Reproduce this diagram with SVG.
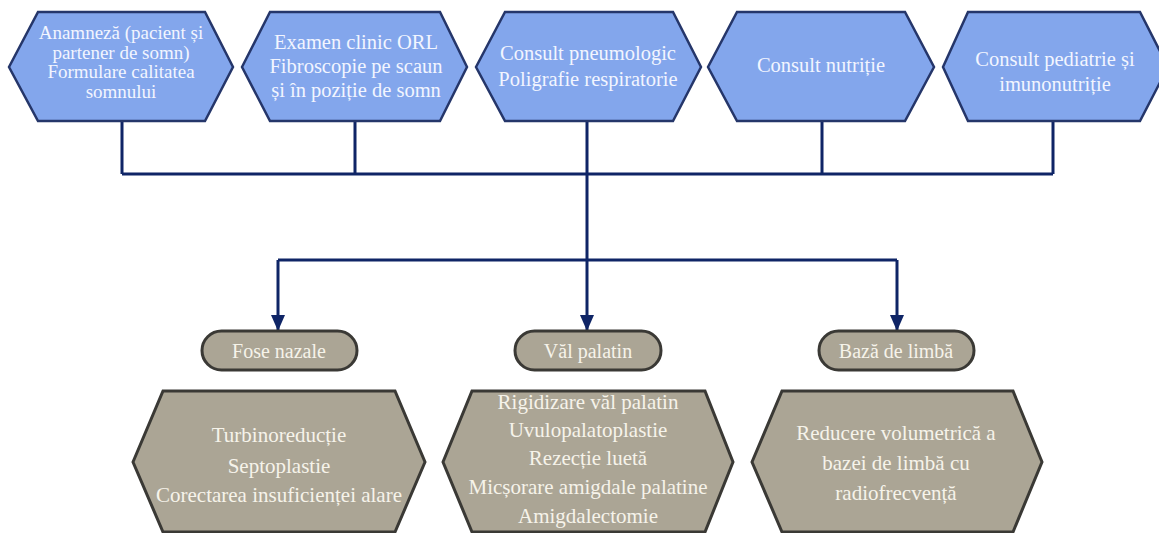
<svg xmlns="http://www.w3.org/2000/svg" width="1159" height="533" viewBox="0 0 1159 533">
<defs>
<style>
.top{fill:#83a6ec;stroke:#25366a;stroke-width:2.5;stroke-linejoin:miter}
.bot{fill:#aba595;stroke:#3a3935;stroke-width:3}
.pill{fill:#aba595;stroke:#3a3935;stroke-width:3}
text{font-family:'Liberation Serif','DejaVu Serif','Times New Roman',serif;text-anchor:middle}
.tt{font-size:20.5px;fill:#f2f5ff}
.ts{font-size:19px;fill:#f2f5ff}
.bt{font-size:21px;fill:#f6f3ea}
.pt{font-size:20px;fill:#f6f3ea}
.con{fill:none;stroke:#0f2566;stroke-width:3}
</style>
<marker id="arr" markerWidth="16" markerHeight="14" refX="16" refY="7" orient="auto" markerUnits="userSpaceOnUse" viewBox="0 0 16 14">
<path d="M0,0 L16,7 L0,14 Z" fill="#0f2566"/>
</marker>
</defs>
<rect width="1159" height="533" fill="#ffffff"/>
<g id="connectors">
<path class="con" d="M122,121 V174 M355,121 V174 M587,121 V174 M822,121 V174 M1053,121 V174 M122,174 H1053"/>
<path class="con" d="M587,174 V260 M278,260 H897"/>
<path class="con" d="M278,260 V331" marker-end="url(#arr)"/>
<path class="con" d="M587,260 V331" marker-end="url(#arr)"/>
<path class="con" d="M897,260 V331" marker-end="url(#arr)"/>
</g>
<g id="n1">
<polygon class="top" points="9,67 38,12 205,12 233,67 205,121 38,121"/>
<text class="ts" x="121" y="39">Anamneză (pacient și</text>
<text class="ts" x="121" y="59">partener de somn)</text>
<text class="ts" x="121" y="78">Formulare calitatea</text>
<text class="ts" x="121" y="98">somnului</text>
</g>
<g id="n2">
<polygon class="top" points="242,67 270,12 440,12 467,67 440,121 270,121"/>
<text class="tt" x="356" y="49">Examen clinic ORL</text>
<text class="tt" x="356" y="73">Fibroscopie pe scaun</text>
<text class="tt" x="356" y="97">și în poziție de somn</text>
</g>
<g id="n3">
<polygon class="top" points="476,67 505,12 673,12 701,67 673,121 505,121"/>
<text class="tt" x="588" y="60">Consult pneumologic</text>
<text class="tt" x="588" y="86">Poligrafie respiratorie</text>
</g>
<g id="n4">
<polygon class="top" points="708,67 737,12 905,12 934,67 905,121 737,121"/>
<text class="tt" x="821" y="72">Consult nutriție</text>
</g>
<g id="n5">
<polygon class="top" points="943,67 968,12 1140,12 1168,67 1140,121 968,121"/>
<text class="tt" x="1055" y="66">Consult pediatrie și</text>
<text class="tt" x="1055" y="91">imunonutriție</text>
</g>
<g id="p1">
<rect class="pill" x="202" y="331" width="155" height="39" rx="19.5"/>
<text class="pt" x="279" y="358">Fose nazale</text>
</g>
<g id="p2">
<rect class="pill" x="515" y="331" width="146" height="39" rx="19.5"/>
<text class="pt" x="588" y="358">Văl palatin</text>
</g>
<g id="p3">
<rect class="pill" x="819" y="331" width="155" height="39" rx="19.5"/>
<text class="pt" x="896" y="358">Bază de limbă</text>
</g>
<g id="b1">
<polygon class="bot" points="133,462 163,391 395,391 425,462 395,532 163,532"/>
<text class="bt" x="279" y="442">Turbinoreducție</text>
<text class="bt" x="279" y="473">Septoplastie</text>
<text class="bt" x="279" y="502">Corectarea insuficienței alare</text>
</g>
<g id="b2">
<polygon class="bot" points="443,462 472,391 705,391 733,462 705,532 472,532"/>
<text class="bt" x="588" y="409">Rigidizare văl palatin</text>
<text class="bt" x="588" y="437">Uvulopalatoplastie</text>
<text class="bt" x="588" y="465">Rezecție luetă</text>
<text class="bt" x="588" y="494">Micșorare amigdale palatine</text>
<text class="bt" x="588" y="523">Amigdalectomie</text>
</g>
<g id="b3">
<polygon class="bot" points="752,462 782,391 1013,391 1042,462 1013,532 782,532"/>
<text class="bt" x="896" y="440">Reducere volumetrică a</text>
<text class="bt" x="896" y="470">bazei de limbă cu</text>
<text class="bt" x="896" y="500">radiofrecvență</text>
</g>
</svg>
